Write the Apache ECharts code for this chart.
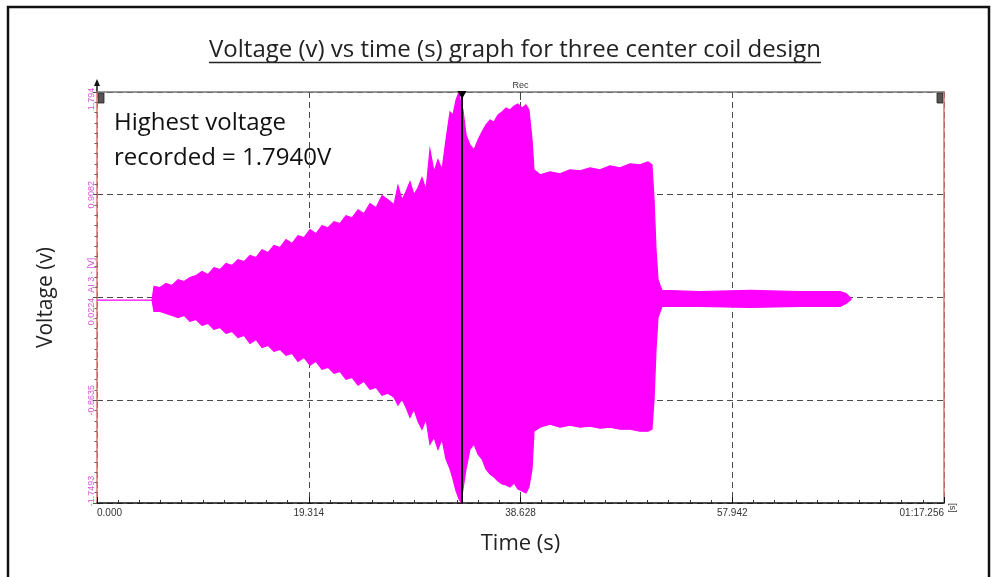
<!DOCTYPE html>
<html>
<head>
<meta charset="utf-8">
<script src="https://cdn.jsdelivr.net/npm/echarts@6/dist/echarts.min.js"></script>
<style>
  html, body { margin: 0; padding: 0; background: #fff; }
  #chart { width: 995px; height: 577px; }
</style>
</head>
<body>
<div id="chart"></div>
<script>
// Recorded signal envelope: time (s), upper and lower excursion (V)
const timeS = [0, 5.02, 5.20, 5.75, 6.29, 6.84, 7.39, 7.94, 8.48, 9.03, 9.58, 10.12, 10.67, 11.22, 11.77, 12.31,
  12.86, 13.41, 13.96, 14.50, 15.05, 15.60, 16.14, 16.69, 17.24, 17.79, 18.33, 18.88, 19.43, 19.98, 20.52, 21.07,
  21.62, 22.16, 22.71, 23.26, 23.81, 24.35, 24.90, 25.45, 26.00, 26.54, 27.09, 27.45, 27.82, 28.18, 28.55, 28.91,
  29.28, 29.64, 30.01, 30.37, 30.74, 31.10, 31.47, 31.83, 32.20, 32.47, 32.75, 33.02, 33.20, 33.38, 33.66, 34.02,
  34.39, 34.75, 35.12, 35.48, 35.85, 36.21, 36.58, 36.94, 37.31, 37.67, 38.04, 38.40, 38.77, 39.13, 39.40, 39.68,
  39.86, 40.41, 41.32, 42.23, 43.14, 44.06, 44.97, 45.88, 46.79, 47.70, 48.62, 49.53, 50.26, 50.62, 50.81, 50.99,
  51.17, 51.53, 55.00, 59.56, 64.12, 67.77, 68.32, 68.77];

const upperV = [0, 0, 0.117, 0.108, 0.143, 0.126, 0.177, 0.160, 0.194, 0.212, 0.246, 0.220, 0.280, 0.263, 0.315, 0.298,
  0.349, 0.332, 0.384, 0.366, 0.435, 0.409, 0.470, 0.452, 0.521, 0.487, 0.556, 0.538, 0.607, 0.573, 0.642, 0.624,
  0.676, 0.659, 0.728, 0.710, 0.779, 0.745, 0.831, 0.796, 0.900, 0.865, 0.822, 0.986, 0.865, 0.934, 1.020, 0.908,
  0.968, 1.054, 0.951, 1.295, 1.106, 1.209, 1.123, 1.381, 1.622, 1.596, 1.725, 1.794, 1.682, 1.639, 1.424, 1.338,
  1.295, 1.381, 1.450, 1.510, 1.553, 1.536, 1.596, 1.622, 1.656, 1.639, 1.674, 1.691, 1.656, 1.682, 1.639, 1.381,
  1.123, 1.080, 1.106, 1.089, 1.123, 1.115, 1.140, 1.123, 1.158, 1.140, 1.175, 1.166, 1.192, 1.166, 0.865, 0.435,
  0.177, 0.083, 0.074, 0.083, 0.074, 0.074, 0.057, 0.014];

const lowerV = [0, 0, -0.098, -0.098, -0.115, -0.132, -0.150, -0.132, -0.184, -0.167, -0.218, -0.201, -0.253, -0.236, -0.287, -0.270,
  -0.322, -0.304, -0.373, -0.339, -0.408, -0.390, -0.442, -0.425, -0.476, -0.459, -0.528, -0.494, -0.562, -0.528, -0.597, -0.580,
  -0.631, -0.614, -0.683, -0.666, -0.734, -0.700, -0.769, -0.752, -0.820, -0.803, -0.838, -0.906, -0.855, -0.924, -1.010, -0.941,
  -1.044, -1.113, -1.027, -1.242, -1.182, -1.285, -1.199, -1.371, -1.457, -1.543, -1.646, -1.715, -1.741, -1.629, -1.457, -1.285,
  -1.242, -1.328, -1.371, -1.457, -1.500, -1.526, -1.560, -1.586, -1.594, -1.612, -1.577, -1.629, -1.646, -1.663, -1.612, -1.457,
  -1.130, -1.096, -1.070, -1.096, -1.078, -1.096, -1.087, -1.104, -1.096, -1.113, -1.113, -1.130, -1.130, -1.113, -0.855, -0.425,
  -0.150, -0.055, -0.055, -0.064, -0.055, -0.055, -0.029, 0.005];

// Axis ticks and their printed labels
const xTickValues = [0, 19.314, 38.628, 57.942, 77.256];
const xTickLabels = ['0.000', '19.314', '38.628', '57.942', '01:17.256'];
const yTickValues = [-1.7493, -0.8635, 0.0224, 0.9082, 1.794];
const yTickLabels = ['-1.7493', '-0.8635', '0.0224', '0.9082', '1.794'];
const channelName = 'AI 3 - [V]';

// Cursor and record marker positions (s)
const cursorTime = 33.29;
const recTime = 38.628;

const titleText = 'Voltage (v) vs time (s) graph for three center coil design';
const noteLines = ['Highest voltage', 'recorded = 1.7940V'];

const SIGNAL = '#ff00ff';
const AXIS_RED = '#e07070';
const LABEL_MAGENTA = '#d257d2';
const GRID_DASH = '#4a4a4a';
const TEXT_FAMILY = '"Open Sans", "Liberation Sans", sans-serif';
const SMALL_FAMILY = '"Liberation Sans", Arial, sans-serif';

function nearestIndex(list, v) {
  let best = 0;
  for (let i = 1; i < list.length; i++) {
    if (Math.abs(list[i] - v) < Math.abs(list[best] - v)) best = i;
  }
  return best;
}

// Subdivide each major y interval into ten for the small ticks
const yMinorTicks = [];
for (let k = 0; k < yTickValues.length - 1; k++) {
  const a = yTickValues[k], b = yTickValues[k + 1];
  for (let j = 1; j < 10; j++) yMinorTicks.push(a + (b - a) * j / 10);
}

const yMin = yTickValues[0], yMax = yTickValues[yTickValues.length - 1];
const xMin = xTickValues[0], xMax = xTickValues[xTickValues.length - 1];
const lastY = yTickValues.length - 1;

const chart = echarts.init(document.getElementById('chart'));

const TITLE_SIZE = 24;
const measure = document.createElement('canvas').getContext('2d');
measure.font = TITLE_SIZE + 'px "Open Sans"';
const titleWidth = measure.measureText(titleText).width;
const titleCx = 515, titleY = 38;

const hiddenAxisParts = { axisLine: { show: false, onZero: false }, axisTick: { show: false }, axisLabel: { show: false }, splitLine: { show: false } };

const option = {
  animation: false,
  backgroundColor: '#fff',
  grid: { left: 97, right: 51, top: 92, bottom: 74, containLabel: false },
  xAxis: [
    {
      type: 'value', position: 'bottom', min: xMin, max: xMax, interval: xTickValues[1] - xTickValues[0],
      axisLine: { show: true, onZero: false, lineStyle: { color: '#111', width: 1.5 } },
      axisTick: { show: true, inside: true, length: 6, lineStyle: { color: '#111', width: 1 } },
      minorTick: { show: true, splitNumber: 10, length: 3, lineStyle: { color: '#333', width: 1 } },
      axisLabel: {
        color: '#333', fontSize: 10, fontFamily: SMALL_FAMILY, margin: 5,
        alignMinLabel: 'left', alignMaxLabel: 'right',
        formatter: v => xTickLabels[nearestIndex(xTickValues, v)]
      },
      splitLine: { show: true, lineStyle: { color: GRID_DASH, type: [6, 4], width: 1 } },
      name: '[s]', nameLocation: 'end', nameGap: 8, nameRotate: -90,
      nameTextStyle: { color: '#333', fontSize: 9, fontFamily: SMALL_FAMILY, align: 'left', verticalAlign: 'middle' }
    },
    Object.assign({ type: 'value', position: 'top', min: xMin, max: xMax }, hiddenAxisParts, {
      axisLine: { show: true, onZero: false, lineStyle: { color: '#777', width: 1.5 } }
    }),
    Object.assign({ type: 'value', position: 'bottom', min: xMin, max: xMax }, hiddenAxisParts, {
      name: 'Time (s)', nameLocation: 'middle', nameGap: 30,
      nameTextStyle: { color: '#222', fontSize: 22, fontFamily: TEXT_FAMILY }
    })
  ],
  yAxis: [
    {
      type: 'value', position: 'left', min: yMin, max: yMax,
      axisLine: { show: true, onZero: false, lineStyle: { color: AXIS_RED, width: 1.5 } },
      axisTick: { show: true, customValues: yTickValues, length: 4, lineStyle: { color: '#555' } },
      axisLabel: {
        customValues: yTickValues, rotate: 90, color: LABEL_MAGENTA, fontSize: 9,
        fontFamily: SMALL_FAMILY, margin: 1,
        formatter: v => {
          const i = nearestIndex(yTickValues, v);
          if (i === lastY) return '{top|' + yTickLabels[i] + '}';
          if (i === 0) return '{bottom|' + yTickLabels[i] + '}';
          if (i === 2) return '{mid|' + yTickLabels[i] + '  ' + channelName + '}';
          return yTickLabels[i];
        },
        rich: {
          top: { color: LABEL_MAGENTA, fontSize: 9, fontFamily: SMALL_FAMILY, padding: [0, 14, 0, 0] },
          bottom: { color: LABEL_MAGENTA, fontSize: 9, fontFamily: SMALL_FAMILY, padding: [0, 0, 0, 24] },
          mid: { color: LABEL_MAGENTA, fontSize: 9, fontFamily: SMALL_FAMILY, padding: [0, 0, 0, 12] }
        }
      },
      splitLine: { show: true, lineStyle: { color: GRID_DASH, type: [6, 4], width: 1 } },
      name: 'Voltage (v)', nameLocation: 'middle', nameGap: 40,
      nameTextStyle: { color: '#222', fontSize: 21, fontFamily: TEXT_FAMILY }
    },
    Object.assign({ type: 'value', position: 'right', min: yMin, max: yMax }, hiddenAxisParts, {
      axisLine: { show: true, onZero: false, lineStyle: { color: AXIS_RED, width: 1.5 } }
    }),
    Object.assign({ type: 'value', position: 'left', min: yMin, max: yMax }, hiddenAxisParts, {
      axisTick: { show: true, customValues: yMinorTicks, length: 2.5, lineStyle: { color: '#666' } }
    })
  ],
  series: [
    {
      name: 'AI 3',
      type: 'custom',
      coordinateSystem: 'cartesian2d',
      xAxisIndex: 0, yAxisIndex: 0,
      clip: true,
      encode: { x: 0, y: [1, 2] },
      data: timeS.map((t, i) => [t, upperV[i], lowerV[i]]),
      renderItem: (params, api) => {
        if (params.dataIndex !== 0) return null;
        const pts = [];
        for (let i = 0; i < timeS.length; i++) pts.push(api.coord([timeS[i], upperV[i]]));
        for (let i = timeS.length - 1; i >= 0; i--) pts.push(api.coord([timeS[i], lowerV[i]]));
        return {
          type: 'polygon',
          shape: { points: pts },
          style: { fill: SIGNAL, stroke: SIGNAL, lineWidth: 1.2, lineJoin: 'miter' }
        };
      },
      markLine: {
        silent: true, symbol: ['none', 'none'], animation: false,
        data: [
          { xAxis: cursorTime, lineStyle: { color: '#000', width: 2, type: 'solid' }, label: { show: false } },
          [
            {
              coord: [recTime, yMax],
              lineStyle: { color: '#444', width: 1, type: [3, 2] },
              label: { show: true, position: 'start', formatter: 'Rec', color: '#333', fontSize: 9, fontFamily: SMALL_FAMILY, distance: 2 }
            },
            { coord: [recTime, 1.66] }
          ]
        ]
      },
      markPoint: {
        silent: true, animation: false,
        data: [{
          coord: [cursorTime, yMax], symbol: 'triangle', symbolRotate: 180, symbolSize: [9, 8],
          symbolOffset: [0, 3], itemStyle: { color: '#000' }, label: { show: false }
        }]
      }
    }
  ],
  graphic: [
    { id: 'frame', type: 'rect', shape: { x: 8, y: 7, width: 981, height: 580 }, style: { fill: 'none', stroke: '#111', lineWidth: 2.5 }, silent: true },
    {
      id: 'title', type: 'text', x: titleCx, y: titleY,
      style: { text: titleText, fill: '#222', fontSize: TITLE_SIZE, fontFamily: '"Open Sans"', fontWeight: 'normal', align: 'center', verticalAlign: 'top' }
    },
    {
      id: 'titleUnderline', type: 'line', shape: { x1: titleCx - titleWidth / 2, y1: titleY + 24.5, x2: titleCx + titleWidth / 2, y2: titleY + 24.5 },
      style: { stroke: '#222', lineWidth: 1.3 }
    },
    {
      id: 'note', type: 'text', x: 114, y: 106,
      style: { text: noteLines.join('\n'), fill: '#111', fontSize: 24, fontFamily: '"Open Sans"', fontWeight: 'normal', lineHeight: 35 }
    }
  ]
};

chart.setOption(option);

// Axis end decorations placed from the axis scales
const topLeft = chart.convertToPixel({ gridIndex: 0 }, [xMin, yMax]);
const topRight = chart.convertToPixel({ gridIndex: 0 }, [xMax, yMax]);
chart.setOption({
  graphic: [
    { id: 'arrowStem', type: 'line', shape: { x1: topLeft[0], y1: topLeft[1], x2: topLeft[0], y2: topLeft[1] - 10 }, style: { stroke: '#111', lineWidth: 1.5 } },
    { id: 'arrowHead', type: 'polygon', shape: { points: [[topLeft[0] - 3, topLeft[1] - 6], [topLeft[0] + 3, topLeft[1] - 6], [topLeft[0], topLeft[1] - 13]] }, style: { fill: '#111' } },
    { id: 'boxLeft', type: 'rect', shape: { x: topLeft[0] + 1, y: topLeft[1] + 1, width: 6, height: 10 }, style: { fill: '#555', stroke: '#222', lineWidth: 0.8 } },
    { id: 'boxRight', type: 'rect', shape: { x: topRight[0] - 7, y: topRight[1] + 1, width: 6, height: 10 }, style: { fill: '#555', stroke: '#222', lineWidth: 0.8 } }
  ]
});
</script>
</body>
</html>
